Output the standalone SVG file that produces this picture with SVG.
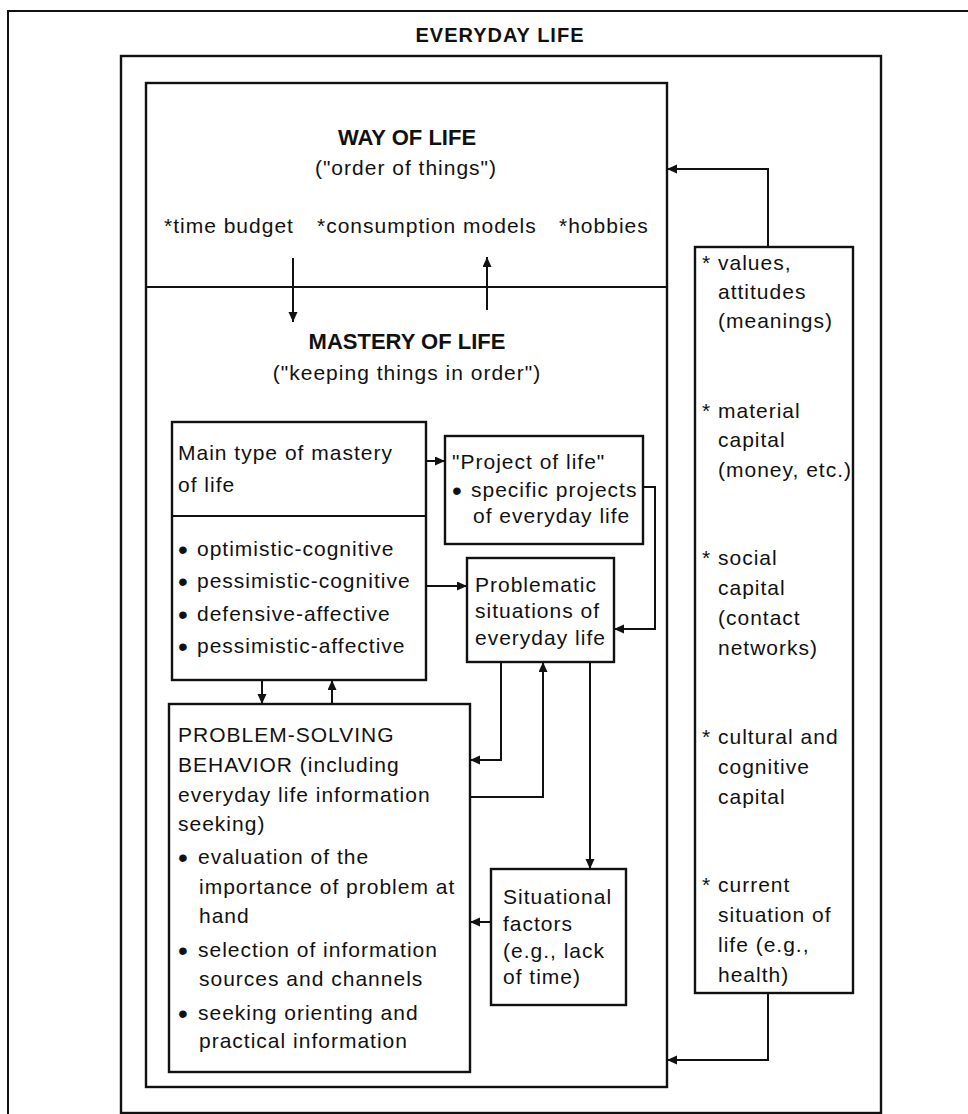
<svg xmlns="http://www.w3.org/2000/svg" width="968" height="1114" viewBox="0 0 968 1114">
  <style>
    .t { font-family: "Liberation Sans", Arial, sans-serif; font-size: 21px; letter-spacing: 1px; fill: #111; }
    .h { font-family: "Liberation Sans", Arial, sans-serif; font-size: 22px; font-weight: bold; fill: #111; }
    .b { font-family: "Liberation Sans", Arial, sans-serif; font-size: 28px; text-anchor: middle; fill: #111; }
    .c { text-anchor: middle; }
    .box { fill: none; stroke: #111; stroke-width: 2.4; }
    .ln { fill: none; stroke: #111; stroke-width: 2; }
    .arr { fill: none; stroke: #111; stroke-width: 2; marker-end: url(#ah); }
  </style>
  <defs>
    <marker id="ah" markerUnits="userSpaceOnUse" markerWidth="11" markerHeight="10" refX="10" refY="4.5" orient="auto">
      <path d="M0,0 L10,4.5 L0,9 z" fill="#111"/>
    </marker>
  </defs>
  <rect width="968" height="1114" fill="#fff"/>

  <!-- outer frame (runs off the right and bottom edges) -->
  <path class="ln" d="M8,1114 V11 H968"/>
  <text class="h c" x="500" y="42" style="font-size:20px;letter-spacing:1px">EVERYDAY LIFE</text>

  <!-- everyday life frame -->
  <rect id="everyday-life" class="box" x="121" y="56" width="760" height="1057"/>

  <!-- way of life / mastery of life -->
  <g id="way-of-life">
    <rect class="box" x="146" y="83" width="521" height="1004"/>
    <line class="ln" x1="146" y1="287" x2="667" y2="287"/>
    <text class="h c" x="407" y="145">WAY OF LIFE</text>
    <text class="t c" x="406" y="175">("order of things")</text>
    <text class="t" x="164" y="233">*time budget</text>
    <text class="t" x="317" y="233">*consumption models</text>
    <text class="t" x="559" y="233">*hobbies</text>
  </g>
  <g id="mastery-of-life">
    <text class="h c" x="407" y="349">MASTERY OF LIFE</text>
    <text class="t c" x="407" y="380">("keeping things in order")</text>
  </g>

  <!-- main type of mastery of life -->
  <g id="main-type">
    <rect class="box" x="172" y="422" width="254" height="258"/>
    <line class="ln" x1="172" y1="516" x2="426" y2="516"/>
    <text class="t" x="178" y="460">Main type of mastery</text>
    <text class="t" x="178" y="492">of life</text>
    <text class="b" x="183" y="559">•</text><text class="t" x="197" y="556">optimistic-cognitive</text>
    <text class="b" x="183" y="591">•</text><text class="t" x="197" y="588">pessimistic-cognitive</text>
    <text class="b" x="183" y="624">•</text><text class="t" x="197" y="621">defensive-affective</text>
    <text class="b" x="183" y="656">•</text><text class="t" x="197" y="653">pessimistic-affective</text>
  </g>

  <!-- project of life -->
  <g id="project-of-life">
    <rect class="box" x="445" y="436" width="198" height="108"/>
    <text class="t" x="452" y="469">"Project of life"</text>
    <text class="b" x="457" y="500">•</text><text class="t" x="471" y="497">specific projects</text>
    <text class="t" x="473" y="523">of everyday life</text>
  </g>

  <!-- problematic situations -->
  <g id="problematic-situations">
    <rect class="box" x="467" y="558" width="147" height="104"/>
    <text class="t" x="475" y="592">Problematic</text>
    <text class="t" x="475" y="618">situations of</text>
    <text class="t" x="475" y="645">everyday life</text>
  </g>

  <!-- problem-solving behavior -->
  <g id="problem-solving">
    <rect class="box" x="169" y="704" width="301" height="368"/>
    <text class="t" x="178" y="742">PROBLEM-SOLVING</text>
    <text class="t" x="178" y="772">BEHAVIOR (including</text>
    <text class="t" x="178" y="802">everyday life information</text>
    <text class="t" x="178" y="831">seeking)</text>
    <text class="b" x="183" y="867">•</text><text class="t" x="198" y="864">evaluation of the</text>
    <text class="t" x="199" y="894">importance of problem at</text>
    <text class="t" x="199" y="923">hand</text>
    <text class="b" x="183" y="960">•</text><text class="t" x="198" y="957">selection of information</text>
    <text class="t" x="199" y="986">sources and channels</text>
    <text class="b" x="183" y="1023">•</text><text class="t" x="198" y="1020">seeking orienting and</text>
    <text class="t" x="199" y="1048">practical information</text>
  </g>

  <!-- situational factors -->
  <g id="situational-factors">
    <rect class="box" x="491" y="869" width="135" height="136"/>
    <text class="t" x="503" y="904">Situational</text>
    <text class="t" x="503" y="931">factors</text>
    <text class="t" x="503" y="958">(e.g., lack</text>
    <text class="t" x="503" y="984">of time)</text>
  </g>

  <!-- resources -->
  <g id="resources">
    <rect class="box" x="695" y="247" width="158" height="746"/>
    <text class="t" x="702" y="270">* values,</text>
    <text class="t" x="718" y="299">attitudes</text>
    <text class="t" x="718" y="328">(meanings)</text>
    <text class="t" x="702" y="418">* material</text>
    <text class="t" x="718" y="447">capital</text>
    <text class="t" x="718" y="477">(money, etc.)</text>
    <text class="t" x="702" y="565">* social</text>
    <text class="t" x="718" y="595">capital</text>
    <text class="t" x="718" y="625">(contact</text>
    <text class="t" x="718" y="655">networks)</text>
    <text class="t" x="702" y="744">* cultural and</text>
    <text class="t" x="718" y="774">cognitive</text>
    <text class="t" x="718" y="804">capital</text>
    <text class="t" x="702" y="892">* current</text>
    <text class="t" x="718" y="922">situation of</text>
    <text class="t" x="718" y="952">life (e.g.,</text>
    <text class="t" x="718" y="982">health)</text>
  </g>

  <!-- connectors -->
  <g id="connectors">
    <path class="arr" d="M293,258 V322"/>
    <path class="arr" d="M487,310 V257"/>
    <path class="arr" d="M426,461 H445"/>
    <path class="arr" d="M426,586 H467"/>
    <path class="arr" d="M643,487 H655 V629 H614"/>
    <path class="arr" d="M262,680 V704"/>
    <path class="arr" d="M332,704 V680"/>
    <path class="arr" d="M501,662 V760 H470"/>
    <path class="arr" d="M470,797 H543 V662"/>
    <path class="arr" d="M590,662 V869"/>
    <path class="arr" d="M491,922 H470"/>
    <path class="arr" d="M768,247 V169 H667"/>
    <path class="arr" d="M768,993 V1060 H667"/>
  </g>
</svg>
